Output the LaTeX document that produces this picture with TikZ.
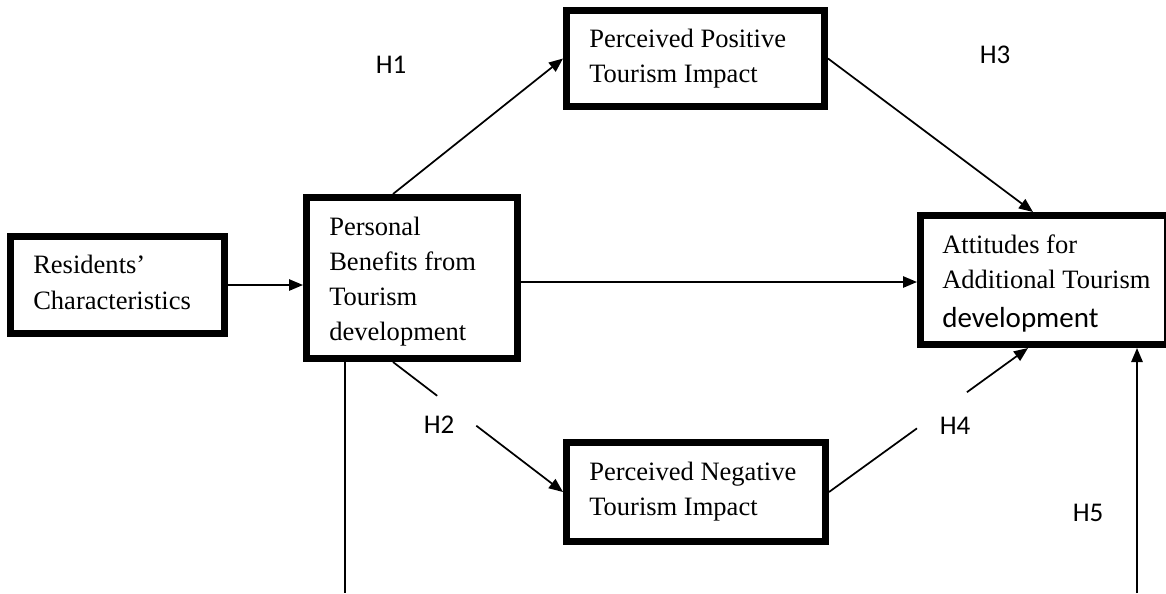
\documentclass[tikz,border=0pt]{standalone}
\usepackage{fontspec}
\setmainfont{Liberation Serif}
\newfontfamily\calib{Carlito}
\usetikzlibrary{arrows.meta,calc}
\begin{document}
\begin{tikzpicture}[x=0.75pt,y=-0.75pt,
  box/.style={draw,line width=5.25pt,inner sep=0pt},
  txt/.style={anchor=base west,inner sep=0pt,font=\fontsize{19.9}{26}\selectfont},
  hlab/.style={inner sep=0pt,font=\calib\fontsize{20.25}{24}\selectfont},
  conn/.style={line width=1.3pt},
  arr/.style={line width=1.3pt,-{Triangle[length=10.5pt,width=8.5pt]}}]
\useasboundingbox (0,0) rectangle (1166,593);
\clip (0,0) rectangle (1166,593);
% boxes
\node[box,minimum width=160.5pt,minimum height=72.75pt] (res) at (117.5,285) {};
\node[box,minimum width=158.25pt,minimum height=120.75pt] (pers) at (412,278) {};
\node[box,minimum width=193.5pt,minimum height=72pt] (pos) at (695.5,58.5) {};
\node[box,minimum width=194.25pt,minimum height=74.25pt] (neg) at (696,492) {};
\node[box,minimum width=185.25pt,minimum height=96.75pt] (att) at (1044,280) {};
% texts
\node[txt] (res1) at (33,273) {Residents’};
\node[txt] (res2) at (33,309) {Characteristics};
\node[txt] (pers1) at (329,235) {Personal};
\node[txt] (pers2) at (329,270) {Benefits from};
\node[txt] (pers3) at (329,305) {Tourism};
\node[txt] (pers4) at (329,340) {development};
\node[txt] (pos1) at (589,47) {Perceived Positive};
\node[txt] (pos2) at (589,82) {Tourism Impact};
\node[txt] (neg1) at (589,480) {Perceived Negative};
\node[txt] (neg2) at (589,515) {Tourism Impact};
\node[txt] (att1) at (942,253) {Attitudes for};
\node[txt] (att2) at (942,288) {Additional Tourism};
\node[txt,font=\calib\fontsize{21.75}{26}\selectfont] (att3) at (942,327) {development};
% hypothesis labels
\node[hlab] (h1) at (391,65) {H1};
\node[hlab] (h2) at (439,425) {H2};
\node[hlab] (h3) at (995,55) {H3};
\node[hlab] (h4) at (955,426) {H4};
\node[hlab] (h5) at (1088,513) {H5};
% coordinates
\coordinate (h1a) at ($(pers.north)+(-19,0)$);
\coordinate (h3b) at ($(att.north)+(-11,0)$);
\coordinate (h2a) at ($(pers.south)+(-19,0)$);
\coordinate (h4b) at ($(att.south)+(-16,0)$);
\coordinate (v1) at (345,593);
\coordinate (v5) at (1137,593);
% connectors
\draw[arr] (res.east) -- (pers.west |- res.east);
\draw[arr] (pers.east |- 0,282) -- (att.west |- 0,282);
\draw[arr] (h1a) -- (pos.west);
\draw[arr] (pos.east) -- (h3b);
\draw[conn] (h2a) -- ($(h2a)!0.26!(neg.west)$);
\draw[arr] ($(h2a)!0.49!(neg.west)$) -- (neg.west);
\draw[conn] (neg.east) -- ($(neg.east)!0.442!(h4b)$);
\draw[arr] ($(neg.east)!0.693!(h4b)$) -- (h4b);
\draw[conn] (pers.south -| v1) -- (v1);
\draw[arr] (v5) -- (v5 |- att.south);
\end{tikzpicture}
\end{document}
